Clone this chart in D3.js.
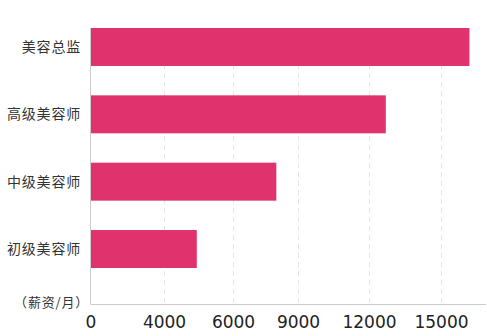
<!DOCTYPE html>
<html>
<head>
<meta charset="utf-8">
<script src="https://cdn.jsdelivr.net/npm/d3@7"></script>
<style>
  body { margin: 0; background: #fff; }
  svg { display: block; }
  .cat { font-family: "Noto Sans CJK SC", sans-serif; font-size: 14px; fill: #333; letter-spacing: 0.8px; }
  .x-axis text { font-family: "DejaVu Sans", sans-serif; font-size: 17px; fill: #222; }
</style>
</head>
<body>
<div id="chart"></div>
<script>
// salary per month
const categories = ['美容总监', '高级美容师', '中级美容师', '初级美容师'];
const salaries = [16200, 12700, 8000, 4950];
const tickValues = [0, 4000, 6000, 9000, 12000, 15000];
const unitLabel = '（薪资/月）';

const width = 487;
const height = 336;
const plotLeft = 90.5;
const plotRight = 486;
const plotTop = 28;
const axisY = 304;

const svg = d3.select('#chart')
  .append('svg')
  .attr('width', width)
  .attr('height', height);

// the ticks in the original are not evenly valued, so the scale is piecewise
const x = d3.scaleLinear()
  .domain([0, 4000, 6000, 9000, 12000, 15000, 16900])
  .range([plotLeft, 164, 233, 298, 369, 441, plotRight]);

const y = d3.scaleBand()
  .domain(categories)
  .range([plotTop, 268])
  .paddingInner(0.436)
  .paddingOuter(0);

// dashed grid
svg.append('g')
  .selectAll('line')
  .data(tickValues.slice(1))
  .enter()
  .append('line')
  .attr('x1', d => Math.round(x(d)) + 0.5)
  .attr('x2', d => Math.round(x(d)) + 0.5)
  .attr('y1', plotTop)
  .attr('y2', axisY)
  .attr('stroke', '#e6e6e6')
  .attr('stroke-dasharray', '5,4');

// bars
svg.append('g')
  .selectAll('rect')
  .data(categories)
  .enter()
  .append('rect')
  .attr('x', plotLeft + 0.5)
  .attr('y', d => y(d))
  .attr('width', (d, i) => x(salaries[i]) - plotLeft - 0.5)
  .attr('height', y.bandwidth())
  .attr('fill', '#e0336d');

// axis lines
svg.append('line')
  .attr('x1', plotLeft).attr('x2', plotLeft)
  .attr('y1', plotTop).attr('y2', axisY)
  .attr('stroke', '#cccccc');

svg.append('line')
  .attr('x1', plotLeft).attr('x2', plotRight)
  .attr('y1', axisY + 0.5).attr('y2', axisY + 0.5)
  .attr('stroke', '#cccccc');

// x tick labels
const xAxis = svg.append('g')
  .attr('class', 'x-axis')
  .attr('transform', `translate(0,${axisY})`)
  .call(d3.axisBottom(x).tickValues(tickValues).tickSize(0).tickPadding(12).tickFormat(d => d));
xAxis.select('.domain').remove();

// category labels
svg.append('g')
  .selectAll('text')
  .data(categories)
  .enter()
  .append('text')
  .attr('class', 'cat')
  .attr('x', 81)
  .attr('y', d => y(d) + y.bandwidth() / 2)
  .attr('dy', '0.35em')
  .attr('text-anchor', 'end')
  .text(d => d);

svg.append('text')
  .attr('class', 'cat')
  .attr('x', 89)
  .attr('y', 302)
  .attr('dy', '0.35em')
  .attr('text-anchor', 'end')
  .style('font-size', '13px')
  .text(unitLabel);
</script>
</body>
</html>
